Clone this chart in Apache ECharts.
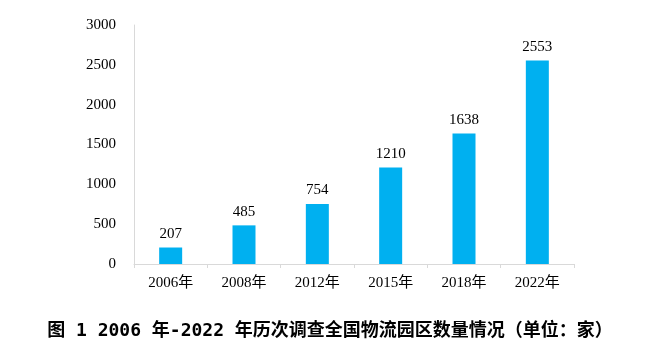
<!DOCTYPE html>
<html><head><meta charset="utf-8">
<script src="https://cdn.jsdelivr.net/npm/echarts@6/dist/echarts.min.js"></script>
<style>html,body{margin:0;padding:0;background:#fff}#c{width:660px;height:358px}</style>
</head><body><div id="c"></div>
<script>
const categories = ['2006年','2008年','2012年','2015年','2018年','2022年'];
const values = [207, 485, 754, 1210, 1638, 2553];
const yTicks = [0, 500, 1000, 1500, 2000, 2500, 3000];
const titleText = '图 1 2006 年-2022 年历次调查全国物流园区数量情况（单位：家）';

const serif = '"Times New Roman","Liberation Serif","Noto Sans CJK SC",serif';
const chart = echarts.init(document.getElementById('c'), null, {renderer:'canvas'});
chart.setOption({
  animation: false,
  title: {
    text: titleText, left: 'center', top: 317,
    textStyle: {fontFamily: '"DejaVu Sans Mono","Noto Sans CJK SC",sans-serif', fontWeight: 'bold', fontSize: 18, color: '#000'}
  },
  grid: {left: 134, right: 86, top: 25, bottom: 94, containLabel: false},
  xAxis: {
    type: 'category', data: categories,
    axisLine: {lineStyle: {color: '#d9d9d9', width: 1}},
    axisTick: {show: true, length: 4, lineStyle: {color: '#d9d9d9'}},
    axisLabel: {fontFamily: serif, fontSize: 15, color: '#000', margin: 12}
  },
  yAxis: {
    type: 'value', min: yTicks[0], max: yTicks[yTicks.length-1], interval: 500,
    axisLine: {show: true, lineStyle: {color: '#d9d9d9', width: 1}},
    axisTick: {show: false},
    splitLine: {show: false},
    axisLabel: {fontFamily: serif, fontSize: 15, color: '#000', margin: 18, formatter: v => String(v)}
  },
  series: [{
    type: 'bar', data: values, barWidth: 23,
    itemStyle: {color: '#00b0f0'},
    label: {show: true, position: 'top', distance: 6, fontFamily: serif, fontSize: 15, color: '#000'}
  }]
});
</script></body></html>
